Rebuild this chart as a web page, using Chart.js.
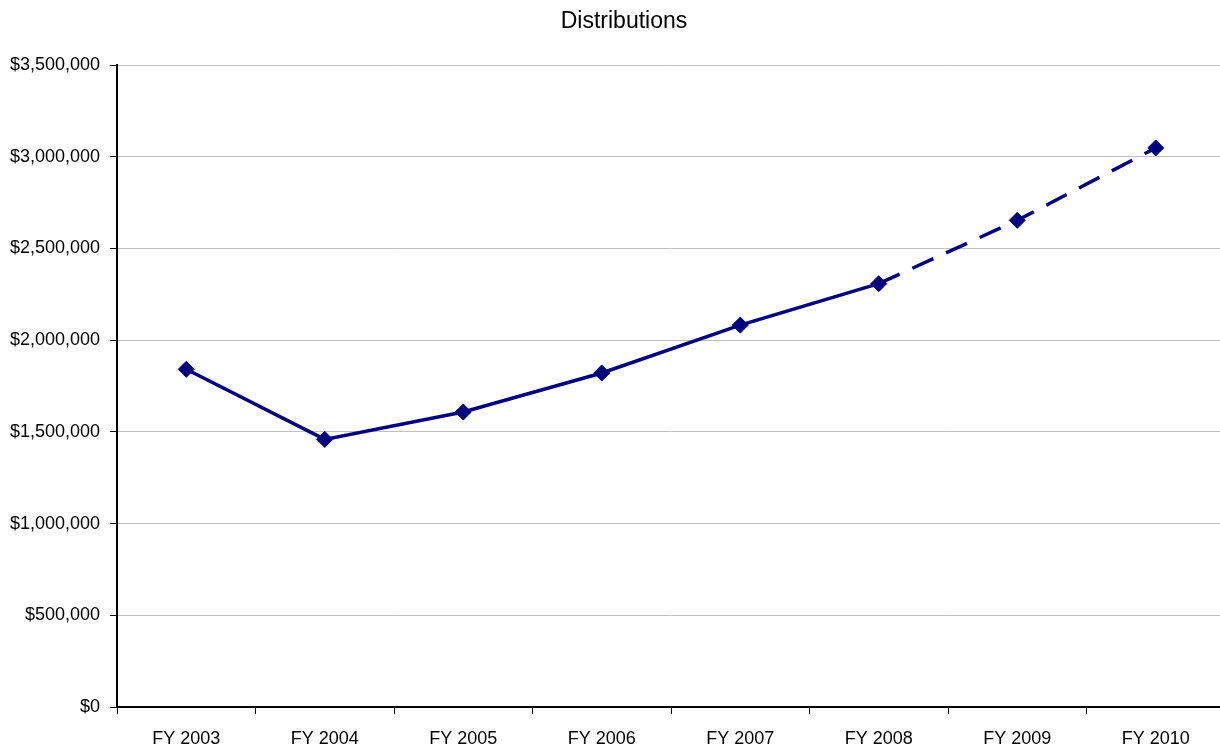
<!DOCTYPE html>
<html>
<head>
<meta charset="utf-8">
<script src="https://cdn.jsdelivr.net/npm/chart.js@4/dist/chart.umd.min.js"></script>
<style>
  html, body { margin: 0; padding: 0; background: #fff; overflow: hidden; }
  #frame { width: 1220px; height: 749px; overflow: hidden; position: relative; }
  /* the plot runs slightly past the right edge of the frame */
  #wrap { width: 1225px; height: 749px; position: relative; }
</style>
</head>
<body>
<div id="frame"><div id="wrap"><canvas id="c"></canvas></div></div>
<script>
// Fiscal years shown on the category axis
const years = ['FY 2003', 'FY 2004', 'FY 2005', 'FY 2006', 'FY 2007', 'FY 2008', 'FY 2009', 'FY 2010'];
// Distribution amounts in dollars
const distributions = [1841000, 1459000, 1608000, 1821000, 2082000, 2308000, 2653000, 3048000];
// Index from which the values are projected (drawn dashed)
const projectedFrom = 5;
const chartTitle = 'Distributions';

const FONT = "'Liberation Sans', Arial, sans-serif";
const navy = '#000080';

// Let the plot area run to the canvas edges; markers are never near them
Chart.LineController.prototype.getMaxOverflow = function () { return 0; };

// Title drawn across the top of the canvas
const plotTitle = {
  id: 'plotTitle',
  afterDraw(chart) {
    const { ctx } = chart;
    ctx.save();
    ctx.font = '23px ' + FONT;
    ctx.fillStyle = '#000';
    ctx.textAlign = 'center';
    ctx.textBaseline = 'alphabetic';
    ctx.fillText(chartTitle, 624, 28);
    ctx.restore();
  }
};

new Chart(document.getElementById('c'), {
  type: 'line',
  data: {
    labels: years,
    datasets: [{
      label: chartTitle,
      data: distributions,
      borderColor: navy,
      backgroundColor: navy,
      borderWidth: 3.5,
      pointStyle: 'rectRot',
      pointRadius: 8,
      pointHoverRadius: 8,
      pointBackgroundColor: navy,
      pointBorderColor: navy,
      pointBorderWidth: 1,
      tension: 0,
      clip: false,
      segment: {
        borderDash: ctx => ctx.p0DataIndex >= projectedFrom ? [23, 14] : undefined
      }
    }]
  },
  plugins: [plotTitle],
  options: {
    responsive: true,
    maintainAspectRatio: false,
    animation: false,
    layout: { padding: { left: 0, right: 0, top: 65, bottom: 0 } },
    plugins: {
      legend: { display: false },
      tooltip: { enabled: false },
      title: { display: false }
    },
    scales: {
      x: {
        offset: true,
        grid: {
          offset: true,
          drawOnChartArea: false,
          drawTicks: true,
          tickLength: 7,
          color: '#000',
          tickColor: '#000'
        },
        border: { color: '#000', width: 2 },
        ticks: {
          color: '#000',
          font: { family: FONT, size: 18 },
          padding: 14,
          maxRotation: 0,
          autoSkip: false
        },
        afterFit: s => { s.height = 42; s.paddingLeft = 0; s.paddingRight = 0; }
      },
      y: {
        min: 0,
        max: 3500000,
        grid: {
          color: '#c0c0c0',
          lineWidth: 1,
          tickLength: 7,
          tickColor: '#000'
        },
        border: { color: '#000', width: 2 },
        ticks: {
          stepSize: 500000,
          color: '#000',
          font: { family: FONT, size: 18 },
          padding: 10,
          callback: v => '$' + Number(v).toLocaleString('en-US')
        },
        afterFit: s => { s.width = 117; }
      }
    }
  }
});
</script>
</body>
</html>
